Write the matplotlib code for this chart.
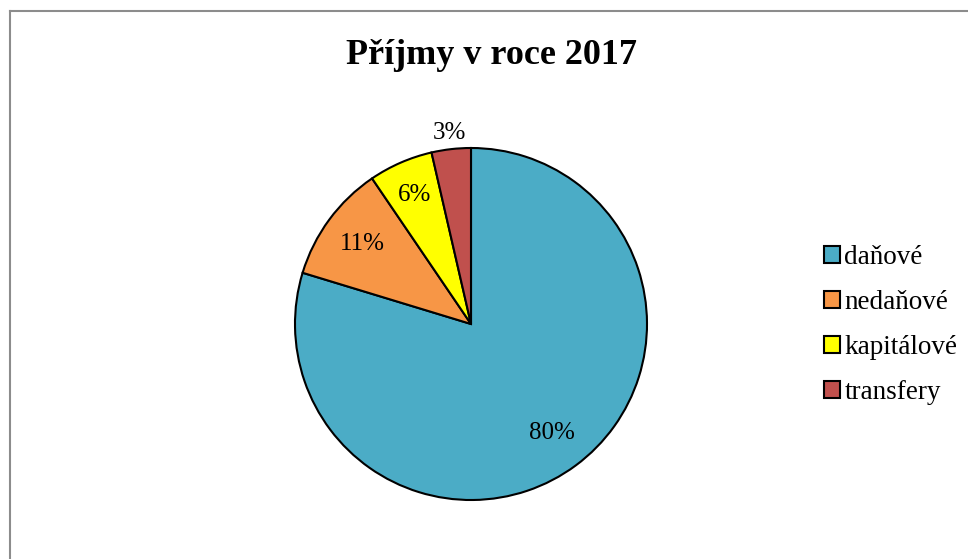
import matplotlib.pyplot as plt
from matplotlib.lines import Line2D
import numpy as np

plt.rcParams['font.family'] = ['Liberation Serif', 'DejaVu Serif']

labels = ['daňové', 'nedaňové', 'kapitálové', 'transfery']
values = [79.7, 10.8, 5.9, 3.6]
pct_labels = ['80%', '11%', '6%', '3%']
colors = ['#4BACC6', '#F79646', '#FFFF00', '#C0504D']
title = 'Příjmy v roce 2017'

W, H = 968, 559
fig = plt.figure(figsize=(W / 100, H / 100), dpi=100)

# pie axes placed in pixel terms: centre (471, 324), radius 176
cx, cy, r = 471, 324, 176
ax = fig.add_axes([(cx - r) / W, (H - cy - r) / H, 2 * r / W, 2 * r / H])
wedges, texts = ax.pie(values, colors=colors, startangle=90,
                       counterclock=False, radius=1,
                       wedgeprops=dict(edgecolor='black', linewidth=1.5))
ax.set_xlim(-1, 1)
ax.set_ylim(-1, 1)
ax.set_aspect('equal')

# percentage labels, the small slice gets its label outside
dists = [0.77, 0.77, 0.80, 1.09]
for w, lab, d in zip(wedges, pct_labels, dists):
    ang = np.deg2rad((w.theta1 + w.theta2) / 2)
    ax.text(d * np.cos(ang), d * np.sin(ang), lab, ha='center', va='center',
            fontsize=18)

fig.text(491 / W, 1 - 56 / H, title, ha='center', va='center',
         fontsize=26, fontweight='bold')

fig.legend(wedges, labels, loc='center left',
           bbox_to_anchor=(824 / W, 1 - 325 / H), bbox_transform=fig.transFigure,
           frameon=False, fontsize=19.5, borderpad=0, borderaxespad=0,
           handlelength=0.6, handleheight=0.6, handletextpad=0.15,
           labelspacing=0.74)

# chart area frame (only top and left visible)
fig.add_artist(Line2D([9.5 / W, 1], [1 - 10.5 / H, 1 - 10.5 / H],
                      transform=fig.transFigure, color='#8c8c8c', linewidth=1.5))
fig.add_artist(Line2D([9.5 / W, 9.5 / W], [0, 1 - 10.5 / H],
                      transform=fig.transFigure, color='#8c8c8c', linewidth=1.5))

fig.savefig('out.png', dpi=100)
